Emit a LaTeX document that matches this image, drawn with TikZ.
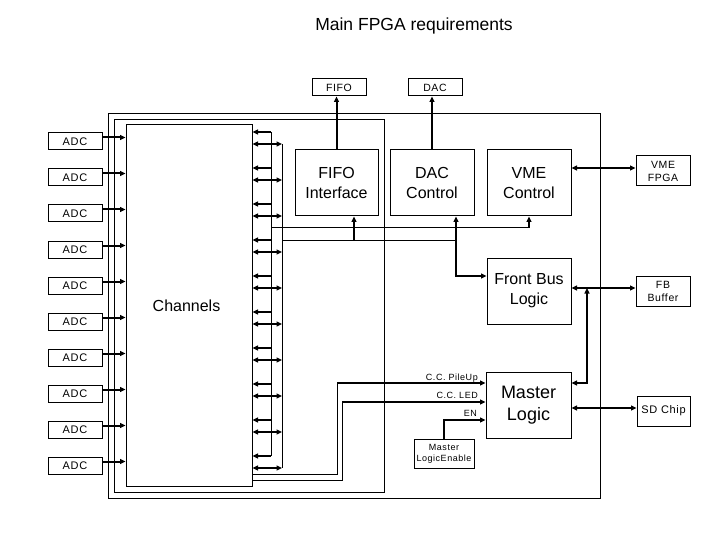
\documentclass[tikz,border=0pt]{standalone}
\usepackage{fontspec}
\setmainfont{Liberation Sans}
\newfontfamily\spaced[LetterSpace=6]{Liberation Sans}
\usetikzlibrary{arrows.meta}
\begin{document}
\begin{tikzpicture}[x=1pt,y=-1pt,
  frame/.style={draw,line width=1pt,inner sep=0pt},
  bigbox/.style={draw,line width=1pt,inner sep=0pt,align=center,font=\fontsize{16}{20}\selectfont},
  smallbox/.style={draw,line width=1pt,inner sep=0pt,align=center,font=\spaced\fontsize{10.5}{13}\selectfont},
  adcbox/.style={draw,line width=1pt,inner sep=0pt,minimum width=54pt,minimum height=17pt,font=\spaced\fontsize{11}{13}\selectfont},
  lbl/.style={inner sep=0pt,font=\spaced\fontsize{9}{11}\selectfont},
  thn/.style={line width=1pt},
  thk/.style={line width=2pt},
  tip/.style={-{Triangle[length=5.5pt,width=5pt]}},
  dtip/.style={{Triangle[length=5.5pt,width=5pt]}-{Triangle[length=5.5pt,width=5pt]}}
]
\useasboundingbox (0,0) rectangle (720,540);
\fill[white] (0,0) rectangle (720,540);

% title
\node[inner sep=0pt,font=\fontsize{17.5}{20}\selectfont] (title) at (414,26) {Main FPGA requirements};

% frames
\node[frame,minimum width=492pt,minimum height=384pt] (outer) at (354,306) {};
\node[frame,minimum width=270pt,minimum height=372pt] (inner) at (249,306) {};
\node[frame,minimum width=126pt,minimum height=361pt] (chan) at (189,305.5) {};
\node[inner sep=0pt,font=\fontsize{16}{20}\selectfont] (chantext) at (186.5,306) {Channels};

% top small boxes
\node[smallbox,minimum width=54pt,minimum height=17pt] (fifo) at (339,87.5) {FIFO};
\node[smallbox,minimum width=54pt,minimum height=17pt] (dac) at (435,87.5) {DAC};

% function boxes
\node[bigbox,minimum width=83pt,minimum height=66pt] (fifoif) at (336.5,183) {FIFO\\Interface};
\node[bigbox,minimum width=84pt,minimum height=66pt] (dacctl) at (432,183) {DAC\\Control};
\node[bigbox,minimum width=84pt,minimum height=66pt] (vmectl) at (529,183) {VME\\Control};
\node[bigbox,minimum width=84pt,minimum height=66pt] (fbl) at (529,291) {Front Bus\\Logic};
\node[bigbox,minimum width=85pt,minimum height=66pt,font=\fontsize{18}{22}\selectfont] (ml) at (528.5,405) {Master\\Logic};

% right boxes
\node[smallbox,minimum width=54pt,minimum height=30pt] (vmefpga) at (663,171) {VME\\FPGA};
\node[smallbox,minimum width=54pt,minimum height=30pt] (fbbuf) at (663,291) {FB\\Buffer};
\node[smallbox,minimum width=53pt,minimum height=30pt,font=\spaced\fontsize{11}{13}\selectfont] (sdchip) at (663.5,411) {SD Chip};

% master logic enable
\node[smallbox,minimum width=60pt,minimum height=29pt,font=\spaced\fontsize{9}{11}\selectfont] (mle) at (444,453.5) {Master\\LogicEnable};

% ADCs
\foreach \k in {0,...,9}{
  \pgfmathsetmacro\yc{141.5+36*\k}
  \node[adcbox] (adc\k) at (75,\yc) {ADC};
  \coordinate (ae\k) at ([yshift=4pt]adc\k.east);
  \draw[thk,tip] (ae\k) -- (ae\k -| chan.west);
}

% channel side taps
\foreach \k in {0,...,9}{
  \pgfmathsetmacro\ya{132+36*\k}
  \pgfmathsetmacro\yb{144+36*\k}
  \coordinate (la\k) at (271,\ya);
  \coordinate (lb\k) at (282,\yb);
  \draw[thk,tip] (la\k) -- (la\k -| chan.east);
  \draw[thk,dtip] (lb\k -| chan.east) -- (lb\k);
}
\draw[thn] (la0) -- (la9);
\draw[thn] (lb0) -- (lb9);

% buses
\coordinate (ha) at (271,228);
\coordinate (hb) at (282,240);
\coordinate (vmetap) at (ha -| vmectl.south);
\coordinate (fifotap) at ([xshift=17.5pt]fifoif.south |- hb);
\coordinate (dactap) at ([xshift=24pt]dacctl.south |- hb);
\draw[thn] (ha) -- (vmetap);
\draw[thn] (hb) -- (dactap);
\draw[thk,tip] (vmetap) -- (vmectl.south);
\draw[thk,tip] (fifotap) -- (fifotap |- fifoif.south);
\draw[thk,tip] (dactap) -- (dactap |- dacctl.south);
\coordinate (fbin) at ([yshift=15pt]fbl.west);
\draw[thk,tip] (dactap) |- (fbin);

% to top boxes
\draw[thk,tip] (fifoif.north) -- (fifoif.north |- fifo.south);
\draw[thk,tip] (dacctl.north) -- (dacctl.north |- dac.south);

% right side links
\coordinate (vmey) at ([yshift=3pt]vmefpga.west);
\draw[thk,dtip] (vmey -| vmectl.east) -- (vmey);
\coordinate (fby) at ([yshift=3pt]fbbuf.west);
\draw[thk,dtip] (fby -| fbl.east) -- (fby);
\coordinate (sdy) at ([yshift=3pt]sdchip.west);
\draw[thk,dtip] (sdy -| ml.east) -- (sdy);
\coordinate (fbtap) at (587,288);
\coordinate (mlr) at ([yshift=22pt]ml.east);
\draw[thk,dtip] (fbtap) |- (mlr);

% C.C. lines
\coordinate (cc1s) at (chan.east |- 0,474);
\coordinate (cc1c) at (337,474);
\coordinate (cc1t) at (337,383);
\draw[thn] (cc1s) -- (cc1c) -- (cc1t);
\draw[thk,tip] (cc1t) -- (cc1t -| ml.west);
\coordinate (cc2s) at (chan.east |- 0,480);
\coordinate (cc2c) at (342,480);
\coordinate (cc2t) at (342,402);
\draw[thn] (cc2s) -- (cc2c) -- (cc2t);
\draw[thk,tip] (cc2t) -- (cc2t -| ml.west);
\node[lbl,anchor=base east] (lpile) at (478,380) {C.C. PileUp};
\node[lbl,anchor=base east] (lled) at (478,398) {C.C. LED};
\node[lbl,anchor=base east] (len) at (477,416) {EN};

% EN
\coordinate (enc) at (mle.north |- 0,420);
\draw[thk,tip] (mle.north) -- (enc) -- (enc -| ml.west);
\end{tikzpicture}
\end{document}
